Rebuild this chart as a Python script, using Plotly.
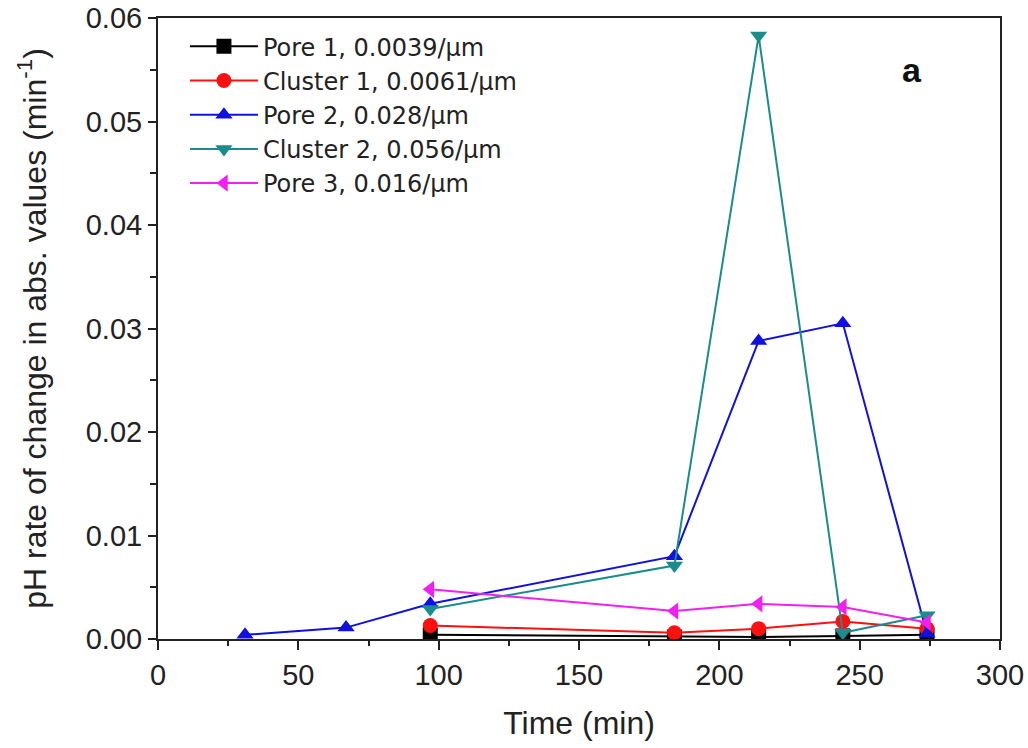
import plotly.graph_objects as go

pore1_t = [97, 184, 214, 244, 274]
pore1_v = [0.0004, 0.0002, 0.0002, 0.0003, 0.0004]

cluster1_t = [97, 184, 214, 244, 274]
cluster1_v = [0.0013, 0.0006, 0.0010, 0.0017, 0.0010]

pore2_t = [31, 67, 97, 184, 214, 244, 274]
pore2_v = [0.0004, 0.0011, 0.0034, 0.0080, 0.0288, 0.0305, 0.0005]

cluster2_t = [97, 184, 214, 244, 274]
cluster2_v = [0.0029, 0.0071, 0.0583, 0.0006, 0.0023]

pore3_t = [97, 184, 214, 244, 274]
pore3_v = [0.0048, 0.0027, 0.0034, 0.0031, 0.0016]

names = ["Pore 1, 0.0039/\u03bcm", "Cluster 1, 0.0061/\u03bcm", "Pore 2, 0.028/\u03bcm",
         "Cluster 2, 0.056/\u03bcm", "Pore 3, 0.016/\u03bcm"]
colors = ["#000000", "#ff1010", "#1010e0", "#1a8c8c", "#f020f0"]
symbols = ["square", "circle", "triangle-up", "triangle-down", "triangle-left"]
series = [(pore1_t, pore1_v), (cluster1_t, cluster1_v), (pore2_t, pore2_v),
          (cluster2_t, cluster2_v), (pore3_t, pore3_v)]

fig = go.Figure()
for (t, v), n, c, s in zip(series, names, colors, symbols):
    fig.add_trace(go.Scatter(x=t, y=v, mode="lines+markers", name=n,
                             line=dict(color=c, width=2),
                             marker=dict(symbol=s, size=15, color=c)))

font = "Liberation Sans, Arial, sans-serif"
fig.update_layout(
    width=1028, height=748,
    margin=dict(l=158, r=28, t=18, b=109),
    paper_bgcolor="white", plot_bgcolor="white",
    font=dict(family=font, size=29, color="#222"),
    showlegend=True,
    legend=dict(x=0.032, y=0.99, xanchor="left", yanchor="top",
                bgcolor="rgba(0,0,0,0)",
                font=dict(family="DejaVu Sans, sans-serif", size=24, color="#222"),
                tracegroupgap=0, itemwidth=68),
    xaxis=dict(range=[0, 300], tickvals=[0, 50, 100, 150, 200, 250, 300],
               automargin=False,
               ticks="outside", ticklen=9, tickwidth=1.5, tickcolor="#222",
               showline=True, linecolor="#222", linewidth=2, mirror=True,
               showgrid=False, zeroline=False,
               minor=dict(ticks="outside", ticklen=5, tickwidth=1.5, tickcolor="#222", dtick=25, showgrid=False),
               title=dict(text="Time (min)", font=dict(size=32), standoff=22),
               tickfont=dict(size=29)),
    yaxis=dict(range=[0, 0.06], tickvals=[0, 0.01, 0.02, 0.03, 0.04, 0.05, 0.06],
               tickformat=".2f", automargin="left",
               ticks="outside", ticklen=8, tickwidth=1.5, tickcolor="#222",
               showline=True, linecolor="#222", linewidth=2, mirror=True,
               showgrid=False, zeroline=False,
               minor=dict(ticks="outside", ticklen=6, tickwidth=1.5, tickcolor="#222", dtick=0.005, showgrid=False),
               title=dict(text="pH rate of change in abs. values (min<sup>-1</sup>)", font=dict(size=32), standoff=30),
               tickfont=dict(size=29)),
)
fig.add_annotation(text="<b>a</b>", xref="paper", yref="paper", x=0.895, y=0.916,
                   xanchor="center", yanchor="middle", showarrow=False,
                   font=dict(family="Liberation Sans, Arial, sans-serif", size=34, color="#111"))

fig.write_html("out.html")
